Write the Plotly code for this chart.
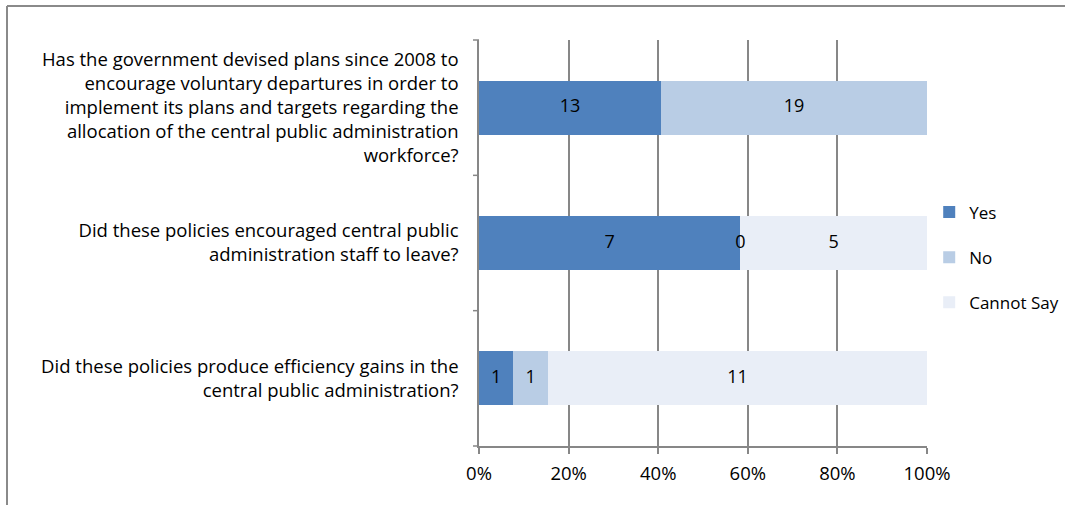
import plotly.graph_objects as go

categories = [
    "Has the government devised plans since 2008 to<br>encourage voluntary departures in order to<br>implement its plans and targets regarding the<br>allocation of the central public administration<br>workforce?",
    "Did these policies encouraged central public<br>administration staff to leave?",
    "Did these policies produce efficiency gains in the<br>central public administration?",
]
series_names = ["Yes", "No", "Cannot Say"]
yes_vals = [13, 7, 1]
no_vals = [19, 0, 1]
cannot_vals = [None, 5, 11]
colors = ["#4F81BD", "#B9CDE5", "#E9EEF7"]
x_ticks = [0, 20, 40, 60, 80, 100]

series = [yes_vals, no_vals, cannot_vals]
FONT = "Open Sans, Calibri, sans-serif"
GRID = "#878787"
FS = 18.5

fig = go.Figure()
for i, (name, vals, col) in enumerate(zip(series_names, series, colors)):
    fig.add_trace(go.Bar(
        y=categories, x=[v if v is not None else 0 for v in vals],
        name=name, orientation="h", marker=dict(color=col, line=dict(width=0)),
        width=0.4, legendgroup=name, hoverinfo="x+name",
    ))

# data labels at the centre of each segment (percent of row total)
lab_x, lab_y, lab_t = [], [], []
for ci, cat in enumerate(categories):
    vals = [s[ci] for s in series]
    total = sum(v for v in vals if v is not None)
    cum = 0.0
    for v in vals:
        if v is None:
            continue
        pct = v / total * 100
        lab_x.append(cum + pct / 2)
        lab_y.append(cat)
        lab_t.append(str(v))
        cum += pct
fig.add_trace(go.Scatter(
    x=lab_x, y=lab_y, text=lab_t, mode="text", showlegend=False,
    textfont=dict(family=FONT, size=18, color="#000000"), hoverinfo="skip",
))

shapes = []
# category boundary ticks on the y axis
for k in range(4):
    shapes.append(dict(type="line", xref="paper", yref="paper", xsizemode="pixel",
                       xanchor=0, x0=-6, x1=0, y0=k / 3, y1=k / 3,
                       line=dict(color=GRID, width=1.5)))
# outer chart border (top & left)
shapes.append(dict(type="line", xref="paper", yref="paper", xsizemode="pixel", ysizemode="pixel",
                   xanchor=0, yanchor=1, x0=-472, x1=700, y0=34, y1=34,
                   line=dict(color="#8A8A8A", width=2)))
shapes.append(dict(type="line", xref="paper", yref="paper", xsizemode="pixel", ysizemode="pixel",
                   xanchor=0, yanchor=1, x0=-472, x1=-472, y0=34, y1=-600,
                   line=dict(color="#8A8A8A", width=2)))

fig.update_layout(
    width=1065, height=505,
    barmode="stack", barnorm="percent",
    margin=dict(l=479, r=138, t=40, b=59, autoexpand=False),
    paper_bgcolor="white", plot_bgcolor="white",
    font=dict(family=FONT, size=FS, color="#000000"),
    shapes=shapes,
    legend=dict(xref="container", yref="container", x=0.8725, xanchor="left",
                y=0.49, yanchor="middle",
                tracegroupgap=20, font=dict(family=FONT, size=17),
                bgcolor="rgba(0,0,0,0)"),
    xaxis=dict(range=[0, 100], tickmode="array", tickvals=x_ticks,
               ticktext=[f"{t}%" for t in x_ticks],
               showgrid=True, gridcolor=GRID, gridwidth=1.5,
               showline=True, linecolor=GRID, linewidth=1.5,
               ticks="outside", ticklen=6, tickcolor=GRID, tickwidth=1.5,
               ticklabelstandoff=4,
               zeroline=False, fixedrange=True, automargin=False),
    yaxis=dict(autorange="reversed", categoryorder="array", categoryarray=categories,
               showgrid=False, showline=True, linecolor=GRID, linewidth=1.5,
               ticks="", ticklabelstandoff=15, zeroline=False, automargin=False,
               tickfont=dict(family=FONT, size=FS)),
)

fig.write_html("out.html", post_script="document.body.style.margin='0';",
               config={"displayModeBar": False})
